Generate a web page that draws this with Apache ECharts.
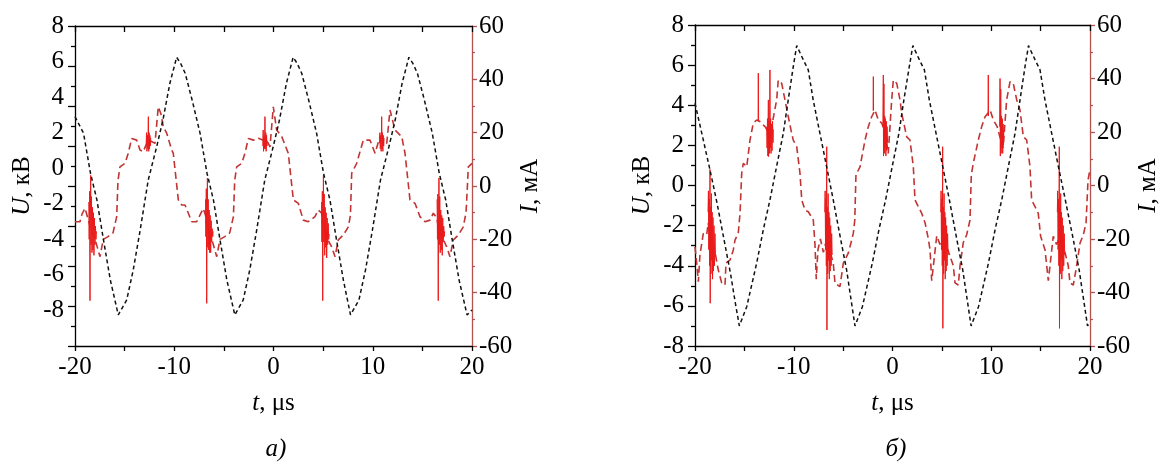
<!DOCTYPE html>
<html><head><meta charset="utf-8">
<script src="https://cdn.jsdelivr.net/npm/echarts@6/dist/echarts.min.js"></script>
<style>html,body{margin:0;padding:0;background:#fff}#c{width:1162px;height:464px}</style>
</head><body><div id="c"></div>
<script>
// ---------- axis ranges / tick labels ----------
const tRange = [-20, 20];
const uRangeA = [-10, 8];
const uRangeB = [-8, 8];
const iRange = [-60, 60];
const captions = ['а)', 'б)'];

// ---------- panel a : voltage U (kV) ----------
const voltA = [[-20,2.9],[-19.14,1.97],[-18.44,-0.28],[-17.79,-1.79],[-17.14,-4.0],[-16.44,-6.29],[-15.64,-8.25],
[-14.79,-7.41],[-14.13,-5.72],[-13.44,-3.5],[-12.62,-0.66],[-11.77,1.21],[-11.14,2.71],[-10.44,4.78],[-9.76,6.24],
[-9.36,5.9],[-8.9,5.34],[-8.2,3.84],[-7.4,1.97],[-6.7,-0.28],[-6.05,-1.79],[-5.4,-4.0],[-4.7,-6.29],[-3.9,-8.25],
[-3.05,-7.41],[-2.39,-5.72],[-1.7,-3.5],[-0.88,-0.66],[-0.03,1.21],[0.6,2.71],[1.3,4.78],[1.98,6.24],
[2.38,5.9],[2.84,5.34],[3.54,3.84],[4.34,1.97],[5.04,-0.28],[5.69,-1.79],[6.34,-4.0],[7.04,-6.29],[7.76,-8.25],
[8.61,-7.41],[9.27,-5.72],[9.96,-3.5],[10.78,-0.66],[11.63,1.21],[12.26,2.71],[12.96,4.78],[13.64,6.24],
[14.04,5.9],[14.5,5.34],[15.2,3.84],[16.0,1.97],[16.7,-0.28],[17.35,-1.79],[18.0,-4.0],[18.7,-6.29],[19.5,-8.25],[20,-7.97]];

// ---------- panel a : current I (mA), main trace ----------
const currA = [[-20,-13.4],[-19.5,-13.4],[-19.29,-10.5],[-18.99,-8.3],[-18.79,-11],[-18.49,-15],[-17.98,-20],[-17.48,-26.5],[-17.15,-20],[-16.67,-19],[-16.17,-17.6],[-15.8,-11.5],[-15.67,2],[-15.47,7.2],[-14.96,8.5],[-14.66,12],[-14.29,17.8],[-13.78,17.2],[-13.45,13.5],[-13.12,12.9],[-12.78,16],[-12.44,17],[-11.94,16],[-11.61,29.7],[-11.34,27],[-11.1,22.2],[-10.76,19.8],[-10.26,13.5],[-10.1,12.3],[-9.59,-5.2],[-9.25,-7.1],[-8.92,-7.1],[-8.58,-10.2],[-8.24,-13.4],[-7.74,-13.4],[-7.41,-10.9],[-7.08,-8.4],[-6.85,-11],
[-6.73,-15],[-6.22,-20],[-5.72,-26.5],[-5.39,-20],[-4.91,-19],[-4.41,-17.6],[-4.04,-11.5],[-3.91,2],[-3.71,7.2],[-3.2,8.5],[-2.9,12],[-2.53,17.8],[-2.02,17.2],[-1.53,17.9],[-1.03,17.2],[-0.69,17.2],[-0.35,14.7],[-0.02,29.7],[0.32,21],[0.83,18.5],[1.49,12.3],[2.0,-5.2],[2.5,-6.5],[3.0,-12.8],[3.51,-13.4],[4.18,-11.5],[4.51,-9],[4.86,-10.2],
[4.96,-15],[5.46,-20],[5.86,-22.8],[6.2,-26.5],[6.53,-20.2],[7.03,-18.4],[7.54,-15.3],[7.75,-11],[7.88,4.8],[8.38,8.5],[9.05,17.2],[9.72,17.2],[10.23,12.3],[10.73,18.5],[11.41,16],[11.74,28.5],[12.24,21],[12.92,18.5],[13.25,12.3],[13.75,-5.2],[14.26,-6.5],[14.76,-11.5],[15.26,-13.4],[15.77,-12.8],[16.1,-10.2],[16.45,-12],
[16.6,-15],[17.1,-20],[17.45,-22.8],[17.78,-26.5],[18.12,-20.2],[18.62,-18.4],[19.12,-15.3],[19.4,-10],[19.47,-5],[19.63,7.2],[20,8.5]];

// ---------- panel a : current I (mA), discharge bursts ----------
const burstA1 = [[-18.61,-6],[-18.57,-20],[-18.53,-2],[-18.49,-43],[-18.46,-14],[-18.42,4],[-18.38,-22],[-18.34,-4],[-18.29,-25],[-18.24,-8],[-18.19,-24],[-18.14,-10],[-18.09,-26],[-18.04,-12],[-17.99,-22],[-17.94,-15],[-17.89,-20],[-17.84,-17]];
const burstA2 = [[-12.83,16],[-12.79,20],[-12.75,13],[-12.71,19],[-12.66,14],[-12.61,26],[-12.57,13],[-12.53,20],[-12.49,14],[-12.45,19],[-12.41,15],[-12.37,18]];
const burstA3 = [[-6.85,-5],[-6.81,-19],[-6.77,-1],[-6.73,-44],[-6.70,-13],[-6.66,3],[-6.62,-23],[-6.58,-5],[-6.53,-24],[-6.48,-9],[-6.43,-25],[-6.38,-11],[-6.33,-25],[-6.28,-13],[-6.23,-21],[-6.18,-16],[-6.13,-19],[-6.08,-17]];
const burstA4 = [[-1.08,15],[-1.04,21],[-1.0,13],[-0.96,19],[-0.91,14],[-0.86,26],[-0.82,14],[-0.78,20],[-0.74,13],[-0.70,19],[-0.66,15],[-0.62,17]];
const burstA5 = [[4.84,-6],[4.88,-21],[4.92,-2],[4.96,-43],[4.99,-15],[5.03,4],[5.07,-21],[5.11,-3],[5.16,-26],[5.21,-8],[5.26,-23],[5.31,-10],[5.36,-27],[5.41,-12],[5.46,-22],[5.51,-14],[5.56,-20],[5.61,-18]];
const burstA6 = [[10.68,16],[10.72,20],[10.76,14],[10.8,19],[10.85,13],[10.9,26],[10.94,14],[10.98,20],[11.02,13],[11.06,19],[11.1,15],[11.14,18]];
const burstA7 = [[16.48,-5],[16.52,-20],[16.56,-3],[16.6,-43],[16.63,-14],[16.67,3],[16.71,-22],[16.75,-4],[16.8,-25],[16.85,-9],[16.9,-24],[16.95,-11],[17.0,-26],[17.05,-12],[17.1,-21],[17.15,-15],[17.2,-19],[17.25,-17]];

// ---------- panel b : voltage U (kV) ----------
const voltB = [[-20,4.1],[-19.16,2.27],[-18.48,0.77],[-17.8,-0.8],[-17.1,-2.6],[-16.4,-4.4],[-15.9,-5.9],[-15.51,-7.0],
[-14.76,-6.04],[-13.76,-3.88],[-13.09,-2.22],[-12.41,-0.72],[-11.74,0.94],[-11.06,2.6],[-10.56,4.26],[-10.05,5.92],[-9.7,6.97],
[-9.03,6.26],[-8.53,5.76],[-8.03,4.26],[-7.35,2.6],[-6.67,0.94],[-6.0,-0.72],[-5.3,-2.55],[-4.65,-4.2],[-3.8,-7.0],
[-3.05,-6.04],[-2.05,-3.88],[-1.38,-2.22],[-0.7,-0.72],[-0.03,0.94],[0.65,2.6],[1.15,4.26],[1.7,5.92],[2.06,6.97],
[2.73,6.26],[3.23,5.76],[3.73,4.26],[4.41,2.6],[5.09,0.94],[5.76,-0.72],[6.46,-2.55],[7.11,-4.2],[7.96,-7.0],
[8.71,-6.04],[9.71,-3.88],[10.38,-2.22],[11.06,-0.72],[11.73,0.94],[12.41,2.6],[12.91,4.26],[13.42,5.92],[13.77,6.97],
[14.44,6.26],[14.94,5.76],[15.44,4.26],[16.12,2.6],[16.8,0.94],[17.5,-0.72],[18.25,-2.55],[18.9,-4.2],[19.75,-7.0],[20,-6.8]];

// ---------- panel b : current I (mA), main trace ----------
const currB = [[-20,-23],[-19.8,-30],[-19.66,-36],[-19.5,-26],[-19.16,-18],[-18.82,-18.5],[-18.66,-14],
[-18.48,-20],[-17.97,-25],[-17.64,-31.6],[-17.3,-36.4],[-16.96,-37.2],[-16.86,-29],[-16.46,-27.9],[-16.12,-24.1],[-15.95,-20.4],[-15.62,-17.8],[-15.44,-10.4],[-15.27,4.6],[-15.11,8.3],[-14.76,7],[-14.43,17],[-14.1,23.3],[-13.75,24.5],[-13.42,23.9],[-12.91,22],[-12.57,20],[-12.24,22],[-11.73,32],[-11.57,39.4],[-11.22,38.2],[-10.89,32],[-10.55,25.7],[-10.21,19.5],[-10.05,17],[-9.7,14.5],[-9.37,4.6],[-9.19,-5.4],[-8.86,-9.2],[-8.53,-9.8],[-8.02,-12.9],[-7.85,-22],[-7.72,-35],[-7.55,-24],[-7.3,-20],[-7.0,-25],
[-6.66,-20],[-6.0,-29],[-5.82,-36.6],[-5.32,-37.8],[-4.98,-29],[-4.48,-25.3],[-4.13,-20.4],[-3.97,-17.9],[-3.82,-13],[-3.7,4],[-3.29,7],[-2.78,17],[-2.45,22],[-2.11,25.7],[-1.77,28.2],[-1.44,24.5],[-1.09,23.3],[-0.75,20],[-0.43,12],[-0.08,32],[0.08,39.4],[0.43,38.2],[0.76,32],[0.93,27],[1.44,18.2],[1.77,17],[2.11,7],[2.28,-5.4],[2.61,-7.9],[2.96,-10.4],[3.3,-14],[3.63,-20],[3.8,-24],[3.97,-35.6],[4.48,-18.8],[4.8,-22],
[5.08,-20],[5.6,-24],[6.16,-30],[6.33,-36.4],[6.66,-37.2],[6.84,-30],[7.17,-21.3],[7.51,-18.4],[7.85,-12.9],[7.98,4],[8.18,8.3],[8.69,17],[9.03,22],[9.37,25.7],[9.9,28],[10.21,24.5],[10.6,22],[10.89,18],[11.2,14],[11.56,32],[11.9,38.8],[12.23,38.2],[12.58,32],[12.91,28.2],[13.25,18.2],[13.59,17],[13.92,7],[14.09,-5.4],[14.43,-7.9],[14.76,-10.4],[15.0,-19],[15.44,-24],[15.78,-35.6],[16.28,-19],[16.6,-22],
[16.89,-20],[17.4,-24],[17.8,-30],[17.97,-36.4],[18.31,-37.2],[18.65,-30],[18.99,-21.5],[19.32,-18.5],[19.6,-14],[19.8,2],[20,6]];

// ---------- panel b : current I (mA), discharge bursts ----------
const burstB1 = [[-18.68,-10],[-18.64,-2],[-18.6,-24],[-18.56,-5],[-18.52,-30],[-18.48,6],[-18.46,-44],[-18.42,-8],[-18.38,-33],[-18.34,-3],[-18.3,-28],[-18.26,-10],[-18.22,-35],[-18.18,-12],[-18.13,-32],[-18.08,-15],[-18.03,-30],[-17.98,-18],[-17.93,-26]];
const burstB2 = [[-13.61,24],[-13.59,42],[-13.56,24]];
const burstB3 = [[-12.74,22],[-12.7,14],[-12.66,25],[-12.62,11],[-12.57,32],[-12.55,10.8],[-12.5,24],[-12.46,12],[-12.41,43.2],[-12.38,14],[-12.34,25],[-12.3,12],[-12.25,23],[-12.2,13],[-12.15,24],[-12.1,16],[-12.07,21]];
const burstB4 = [[-6.86,-10],[-6.82,-2],[-6.78,-24],[-6.74,-5],[-6.7,-30],[-6.66,14.5],[-6.64,-54],[-6.6,-8],[-6.56,-33],[-6.52,-3],[-6.48,-28],[-6.44,-10],[-6.4,-35],[-6.36,-12],[-6.31,-32],[-6.26,-15],[-6.21,-30],[-6.16,-18],[-6.11,-26]];
const burstB5 = [[-1.96,28],[-1.94,40.7],[-1.92,28]];
const burstB6 = [[-0.97,22],[-0.93,41.3],[-0.91,11],[-0.87,38],[-0.83,12],[-0.79,26],[-0.75,14],[-0.71,25],[-0.67,11],[-0.63,24],[-0.59,13],[-0.55,22],[-0.5,16]];
const burstB7 = [[4.88,-10],[4.92,-2],[4.96,-24],[5.0,-5],[5.04,-30],[5.08,14.5],[5.1,-53.4],[5.14,-8],[5.18,-33],[5.22,-3],[5.26,-28],[5.3,-10],[5.34,-35],[5.38,-12],[5.43,-32],[5.48,-15],[5.53,-30],[5.58,-18],[5.63,-26]];
const burstB8 = [[9.68,26],[9.70,41.3],[9.72,26]];
const burstB9 = [[10.85,22],[10.89,40],[10.92,11],[10.96,36],[11.0,12],[11.04,26],[11.08,14],[11.12,25],[11.16,12],[11.2,23],[11.24,15],[11.28,21]];
const burstB10 = [[16.69,-10],[16.73,-2],[16.77,-24],[16.81,-5],[16.85,-30],[16.89,14.5],[16.91,-53.4],[16.95,-8],[16.99,-33],[17.03,-3],[17.07,-28],[17.11,-10],[17.15,-35],[17.19,-12],[17.24,-32],[17.29,-15],[17.34,-30],[17.39,-18],[17.44,-26]];

const burstsA = [burstA1, burstA2, burstA3, burstA4, burstA5, burstA6, burstA7];
const burstsB = [burstB1, burstB2, burstB3, burstB4, burstB5, burstB6, burstB7, burstB8, burstB9, burstB10];

// ---------- styling ----------
const SERIF = '"Liberation Serif","DejaVu Serif",serif';
const FS = 25;
const AXIS_RED = '#b5524f';
const CURR_RED = '#c23434';
const BURST_RED = '#ea1a1a';
const blackLine = {color:'#000', width:1.3};

function nameStyle() {
  return {color:'#000', fontFamily:SERIF, fontSize:FS,
    rich:{i:{fontStyle:'italic', fontFamily:SERIF, fontSize:FS, color:'#000'}}};
}
function xBottom(g) {
  return {type:'value', gridIndex:g, position:'bottom', min:tRange[0], max:tRange[1], interval:10,
    axisLine:{onZero:false, lineStyle:blackLine},
    axisTick:{inside:false, length:5, lineStyle:blackLine},
    minorTick:{show:true, splitNumber:2, length:5, lineStyle:blackLine},
    splitLine:{show:false}, minorSplitLine:{show:false},
    axisLabel:{color:'#000', fontFamily:SERIF, fontSize:FS, margin:9},
    name:'{i|t}, μs', nameLocation:'middle', nameGap:45, nameTextStyle:nameStyle()};
}
function xTop(g) {
  return {type:'value', gridIndex:g, position:'top', min:tRange[0], max:tRange[1], interval:5,
    axisLine:{onZero:false, lineStyle:blackLine},
    axisTick:{inside:true, length:6, lineStyle:blackLine},
    axisLabel:{show:false}, splitLine:{show:false}};
}
function yRight(g) {
  return {type:'value', gridIndex:g, position:'right', min:iRange[0], max:iRange[1], interval:20,
    axisLine:{onZero:false, lineStyle:{color:AXIS_RED, width:1.3}},
    axisTick:{inside:false, length:5, lineStyle:{color:AXIS_RED, width:1.3}},
    minorTick:{show:true, splitNumber:2, length:3, lineStyle:{color:AXIS_RED, width:1.2}},
    splitLine:{show:false}, minorSplitLine:{show:false},
    axisLabel:{color:'#000', fontFamily:SERIF, fontSize:FS, margin:7},
    name:'{i|I}, мА', nameLocation:'middle', nameGap:46, nameRotate:90, nameTextStyle:nameStyle()};
}

const yAxes = [
  // 0: panel a, U labels
  {type:'value', gridIndex:0, position:'left', min:uRangeA[0], max:uRangeA[1], interval:2,
   axisLine:{show:false, onZero:false}, axisTick:{show:false}, splitLine:{show:false},
   axisLabel:{showMinLabel:false, color:'#000', fontFamily:SERIF, fontSize:FS, margin:11},
   name:'{i|U}, кВ', nameLocation:'middle', nameGap:40, nameRotate:90, nameTextStyle:nameStyle()},
  // 1: panel a, left frame with ticks
  {type:'value', gridIndex:0, position:'left', min:uRangeB[0], max:uRangeB[1], interval:2,
   axisLine:{onZero:false, lineStyle:blackLine},
   axisTick:{inside:false, length:7, lineStyle:blackLine},
   minorTick:{show:true, splitNumber:2, length:4, lineStyle:blackLine},
   axisLabel:{show:false}, splitLine:{show:false}},
  // 2: panel a, right I
  yRight(0),
  // 3: panel b, U
  {type:'value', gridIndex:1, position:'left', min:uRangeB[0], max:uRangeB[1], interval:2,
   axisLine:{onZero:false, lineStyle:blackLine},
   axisTick:{inside:false, length:7, lineStyle:blackLine},
   minorTick:{show:true, splitNumber:2, length:4, lineStyle:blackLine},
   splitLine:{show:false},
   axisLabel:{color:'#000', fontFamily:SERIF, fontSize:FS, margin:11},
   name:'{i|U}, кВ', nameLocation:'middle', nameGap:40, nameRotate:90, nameTextStyle:nameStyle()},
  // 4: panel b, right I
  yRight(1)
];

function volt(data, xi, yi) {
  return {type:'line', xAxisIndex:xi, yAxisIndex:yi, data:data, showSymbol:false, silent:true,
    lineStyle:{color:'#111', width:1.5, type:[4,3]}, z:5};
}
function curr(data, xi, yi) {
  return {type:'line', xAxisIndex:xi, yAxisIndex:yi, data:data, showSymbol:false, silent:true,
    lineStyle:{color:CURR_RED, width:1.6, type:[7,4]}, z:3};
}
function burst(data, xi, yi) {
  return {type:'line', xAxisIndex:xi, yAxisIndex:yi, data:data, showSymbol:false, silent:true,
    lineStyle:{color:BURST_RED, width:1}, z:4};
}

const series = [
  curr(currA, 0, 2),
  ...burstsA.map(d => burst(d, 0, 2)),
  volt(voltA, 0, 0),
  curr(currB, 2, 4),
  ...burstsB.map(d => burst(d, 2, 4)),
  volt(voltB, 2, 3)
];

const chart = echarts.init(document.getElementById('c'), null, {renderer:'canvas'});
chart.setOption({
  animation:false,
  backgroundColor:'#fff',
  grid:[
    {left:75, top:26, width:397, height:320},
    {left:695, top:25, width:395, height:321}
  ],
  xAxis:[xBottom(0), xTop(0), xBottom(1), xTop(1)],
  yAxis:yAxes,
  series:series,
  graphic:[
    {type:'text', x:276, y:449, style:{text:captions[0], align:'center', verticalAlign:'middle',
      font:'italic ' + FS + 'px ' + SERIF, fill:'#000'}},
    {type:'text', x:896, y:449, style:{text:captions[1], align:'center', verticalAlign:'middle',
      font:'italic ' + FS + 'px ' + SERIF, fill:'#000'}}
  ]
});
</script></body></html>
